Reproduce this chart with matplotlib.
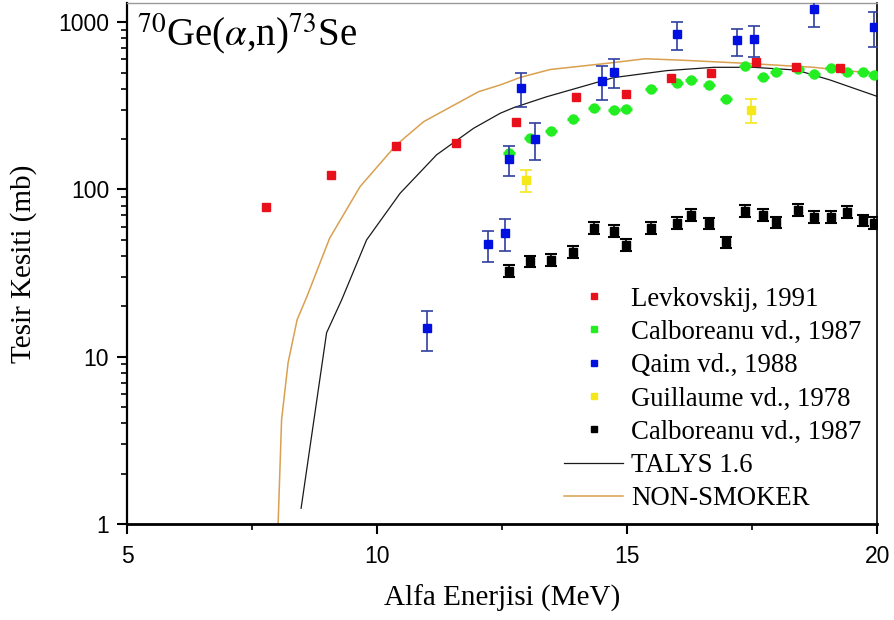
import numpy as np
import matplotlib
matplotlib.use("Agg")
import matplotlib.pyplot as plt
from matplotlib.ticker import LogLocator, FixedLocator, NullFormatter

plt.rcParams["mathtext.fontset"] = "stix"

# ---- data ----
lev_E = [7.78, 9.08, 10.38, 11.58, 12.78, 13.98, 14.97, 15.87, 16.67, 17.57, 18.37, 19.26]
lev_s = [78, 122, 182, 189, 252, 355, 372, 466, 499, 580, 537, 530]

cal_E = [12.64, 13.06, 13.48, 13.91, 14.33, 14.73, 14.97, 15.47, 15.99, 16.27, 16.63,
         16.97, 17.36, 17.72, 17.97, 18.41, 18.73, 19.07, 19.40, 19.71, 19.94]
cal_s = [166, 203, 224, 262, 308, 298, 304, 397, 432, 451, 419,
         346, 545, 472, 503, 525, 490, 530, 503, 501, 485]

qaim_E = [11.0, 12.21, 12.56, 12.64, 12.87, 13.16, 14.50, 14.73, 15.99, 17.20, 17.53, 18.73, 19.93]
qaim_s = [14.9, 47, 55, 151, 402, 201, 443, 506, 849, 778, 789, 1192, 938]
qaim_lo = [10.8, 36.6, 42.7, 120, 310, 149, 344, 403, 682, 628, 620, 930, 708]
qaim_hi = [18.8, 56.5, 66.7, 181, 497, 251, 545, 600, 1006, 916, 946, 1450, 1148]

gui_E = [12.98, 17.47]
gui_s = [114, 298]
gui_lo = [96, 250]
gui_hi = [130, 347]

cal2_E = [12.63, 13.06, 13.48, 13.91, 14.33, 14.73, 14.97, 15.47, 15.99, 16.27, 16.63,
          16.97, 17.36, 17.72, 17.97, 18.41, 18.73, 19.07, 19.40, 19.71, 19.94]
cal2_s = [32.7, 37.2, 37.9, 42.5, 58.8, 56.6, 46.8, 58.8, 63.2, 70.3, 62.7,
          48.3, 74.6, 70.6, 63.6, 75.3, 68.7, 68.4, 73.3, 65.3, 63.2]
cal2_rel = 0.08

talys_E = [8.48, 8.99, 9.29, 9.79, 10.46, 11.19, 11.93, 12.46, 12.73, 13.39, 14.73,
           15.79, 16.73, 17.53, 18.39, 19.06, 20.0]
talys_s = [1.24, 13.9, 21.8, 49.9, 94.8, 161, 232, 285, 308, 358, 466,
           513, 537, 537, 517, 451, 360]

ns_E = [8.02, 8.09, 8.22, 8.40, 8.60, 9.05, 9.66, 10.38, 10.93, 12.03, 12.46, 12.87,
        13.46, 14.59, 15.36, 16.06, 17.39, 18.73, 20.0]
ns_s = [1.0, 4.2, 9.2, 16.6, 23.0, 51, 104, 184, 254, 384, 421, 468,
        521, 567, 604, 593, 567, 537, 492]

legend_labels = ["Levkovskij, 1991", "Calboreanu vd., 1987", "Qaim vd., 1988",
                 "Guillaume vd., 1978", "Calboreanu vd., 1987", "TALYS 1.6", "NON-SMOKER"]

serif = ["Liberation Serif", "DejaVu Serif"]
sans = ["Liberation Sans", "DejaVu Sans"]

fig = plt.figure(figsize=(8.95, 6.20), dpi=100)
ax = fig.add_axes([0.142, 0.155, 0.838, 0.840])

l_t, = ax.plot(talys_E, talys_s, color="#1a1a1a", lw=0.9, zorder=2)
l_n, = ax.plot(ns_E, ns_s, color="#d9a050", lw=1.1, zorder=2)

ax.plot(lev_E, lev_s, ls="none", marker="s", ms=5.5, color="#e8101a", zorder=4)
ax.errorbar(cal_E, cal_s, xerr=0.12, fmt="o", ms=6.5, color="#22ee22", ecolor="#22ee22",
            elinewidth=2.5, capsize=0, zorder=3)

qe = [np.array(qaim_s) - np.array(qaim_lo), np.array(qaim_hi) - np.array(qaim_s)]
ax.errorbar(qaim_E, qaim_s, yerr=qe, fmt="s", ms=5.5, color="#0010e0", ecolor="#3040a0",
            elinewidth=1.2, capsize=4, capthick=1.2, zorder=5)

ge = [np.array(gui_s) - np.array(gui_lo), np.array(gui_hi) - np.array(gui_s)]
ax.errorbar(gui_E, gui_s, yerr=ge, fmt="s", ms=5.5, color="#f5e81a", ecolor="#f5e81a",
            elinewidth=1.2, capsize=4, capthick=1.2, zorder=4)

c2 = np.array(cal2_s)
ax.errorbar(cal2_E, cal2_s, yerr=c2 * cal2_rel, fmt="s", ms=5.5, color="black", ecolor="black",
            elinewidth=1.2, capsize=4, capthick=1.5, zorder=4)

# legend proxies
proxies = [ax.plot([], [], ls="none", marker="s", ms=4, color=c)[0]
           for c in ["#e8101a", "#22ee22", "#0010e0", "#f5e81a", "black"]]

ax.set_yscale("log")
ax.set_xlim(5, 20)
ax.set_ylim(1, 1300)

ax.xaxis.set_major_locator(FixedLocator([5, 10, 15, 20]))
ax.xaxis.set_minor_locator(FixedLocator([7.5, 12.5, 17.5]))
ax.yaxis.set_major_locator(FixedLocator([1, 10, 100, 1000]))
ax.yaxis.set_minor_locator(LogLocator(base=10, subs=np.arange(2, 10)))
ax.yaxis.set_minor_formatter(NullFormatter())
ax.set_yticklabels(["1", "10", "100", "1000"])
ax.set_xticklabels(["5", "10", "15", "20"])

ax.tick_params(axis="both", which="major", direction="out", length=7, width=1.5,
               labelsize=16.5, top=False, right=False)
ax.tick_params(axis="both", which="minor", direction="out", length=4, width=1.2,
               top=False, right=False)
ax.tick_params(axis="x", which="major", pad=8)
ax.tick_params(axis="y", which="major", pad=6)
for t in ax.get_xticklabels() + ax.get_yticklabels():
    t.set_family(sans)

ax.spines["bottom"].set_linewidth(2.0)
ax.spines["left"].set_linewidth(1.6)
ax.spines["top"].set_linewidth(1.0)
ax.spines["top"].set_color("#999999")
ax.spines["right"].set_linewidth(1.2)

ax.set_xlabel("Alfa Enerjisi (MeV)", fontsize=21, family=serif, labelpad=12)
ax.set_ylabel("Tesir Kesiti (mb)", fontsize=21, family=serif, labelpad=15)

ax.text(0.013, 0.985, r"$^{70}$Ge($\alpha$,n)$^{73}$Se", transform=ax.transAxes,
        fontsize=28, family=serif, va="top", ha="left")

ax.legend(handles=proxies + [l_t, l_n], labels=legend_labels,
          loc="lower right", bbox_to_anchor=(1.004, -0.012),
          frameon=False, prop={"family": serif, "size": 19.3}, handlelength=2.2,
          handletextpad=0.3, labelspacing=0.31, borderaxespad=0.3)

fig.savefig("out.png", dpi=100)
